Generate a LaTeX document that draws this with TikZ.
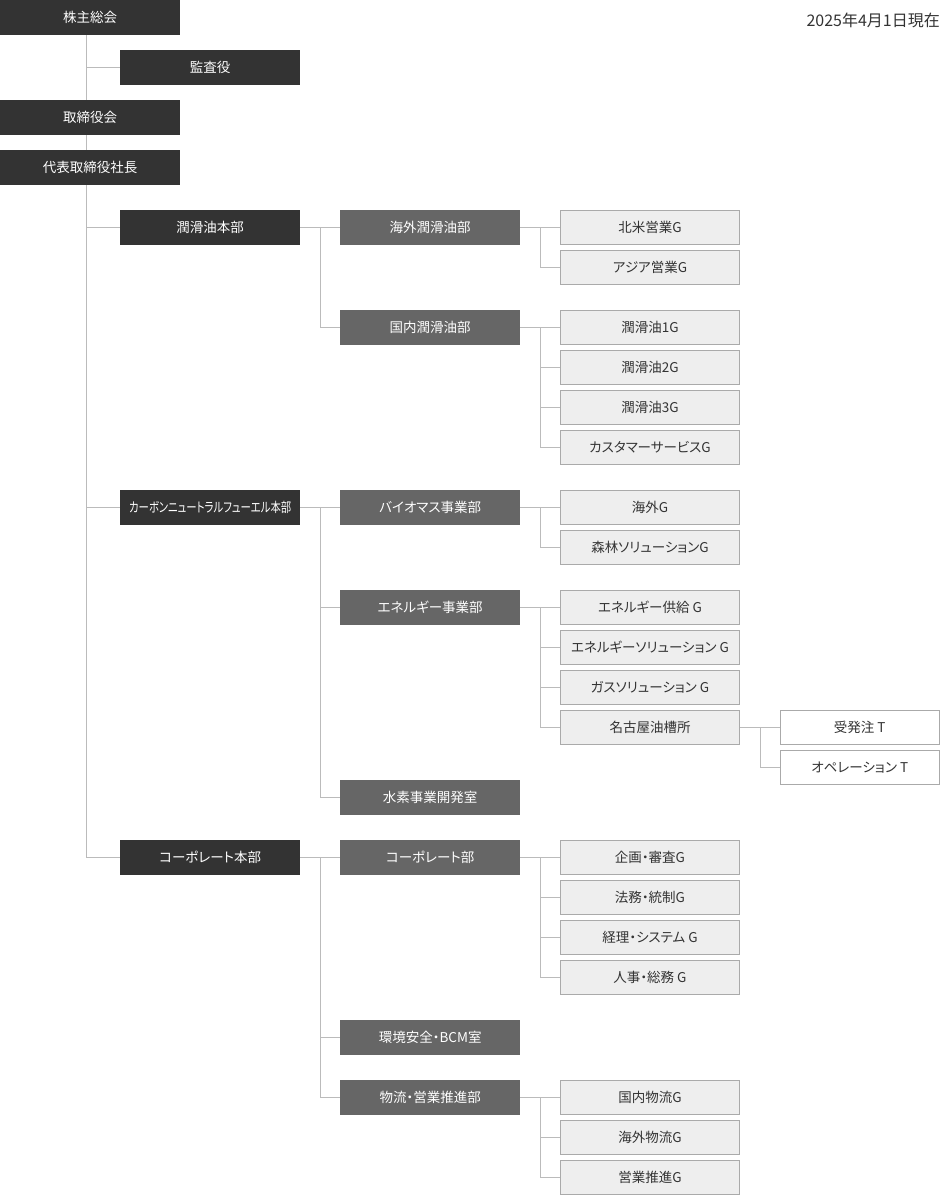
\documentclass[tikz,border=0pt]{standalone}
\usepackage{fontspec}
\setmainfont{Noto Sans CJK JP}[RawFeature=+palt]
\usetikzlibrary{backgrounds,calc}
\definecolor{cdark}{HTML}{333333}
\definecolor{cmid}{HTML}{666666}
\definecolor{clight}{HTML}{EEEEEE}
\definecolor{cborder}{HTML}{AAAAAA}
\definecolor{cline}{HTML}{BBBBBB}
\definecolor{ctext}{HTML}{333333}
\tikzset{
  boxbase/.style={anchor=north west, inner sep=0pt, minimum width=180pt, minimum height=35pt,
    font=\fontsize{13.5}{16}\selectfont},
  lvA/.style={boxbase, fill=cdark, text=white},
  lvB/.style={boxbase, fill=cmid, text=white},
  lvC/.style={boxbase, fill=clight, draw=cborder, line width=1pt, text=ctext,
    minimum width=179pt, minimum height=34pt},
  lvD/.style={boxbase, fill=white, draw=cborder, line width=1pt, text=ctext,
    minimum width=158.5pt, minimum height=34pt},
  conn/.style={draw=cline, line width=1pt},
}
\newcommand\orgbranch[2]{%
  \draw[conn] (#1.east) -- ++(20,0) coordinate (#1j);
  \foreach \c in {#2} {\draw[conn] (#1j) |- (\c.west);}
}
\begin{document}
\begin{tikzpicture}[x=1pt,y=-1pt]
\useasboundingbox (0,0) rectangle (940,1195);
% level A
\node[lvA] (kabu) at (0,0) {株主総会};
\node[lvA] (kansa) at (120,50) {監査役};
\node[lvA] (tori) at (0,100) {取締役会};
\node[lvA] (shacho) at (0,150) {代表取締役社長};
\node[lvA] (hq1) at (120,210) {潤滑油本部};
\node[lvA] (hq2) at (120,490) {\resizebox{162pt}{\height}{\fontsize{13.5}{15}\selectfont カーボンニュートラルフューエル本部}};
\node[lvA] (hq3) at (120,840) {コーポレート本部};
% level B
\node[lvB] (d11) at (340,210) {海外潤滑油部};
\node[lvB] (d12) at (340,310) {国内潤滑油部};
\node[lvB] (d21) at (340,490) {バイオマス事業部};
\node[lvB] (d22) at (340,590) {エネルギー事業部};
\node[lvB] (d23) at (340,780) {水素事業開発室};
\node[lvB] (d31) at (340,840) {コーポレート部};
\node[lvB] (d32) at (340,1020) {環境安全・BCM室};
\node[lvB] (d33) at (340,1080) {物流・営業推進部};
% level C
\node[lvC] (g111) at (560,210) {北米営業G};
\node[lvC] (g112) at (560,250) {アジア営業G};
\node[lvC] (g121) at (560,310) {潤滑油1G};
\node[lvC] (g122) at (560,350) {潤滑油2G};
\node[lvC] (g123) at (560,390) {潤滑油3G};
\node[lvC] (g124) at (560,430) {カスタマーサービスG};
\node[lvC] (g211) at (560,490) {海外G};
\node[lvC] (g212) at (560,530) {森林ソリューションG};
\node[lvC] (g221) at (560,590) {エネルギー供給 G};
\node[lvC] (g222) at (560,630) {エネルギーソリューション G};
\node[lvC] (g223) at (560,670) {ガスソリューション G};
\node[lvC] (g224) at (560,710) {名古屋油槽所};
\node[lvC] (g311) at (560,840) {企画・審査G};
\node[lvC] (g312) at (560,880) {法務・統制G};
\node[lvC] (g313) at (560,920) {経理・システム G};
\node[lvC] (g314) at (560,960) {人事・総務 G};
\node[lvC] (g331) at (560,1080) {国内物流G};
\node[lvC] (g332) at (560,1120) {海外物流G};
\node[lvC] (g333) at (560,1160) {営業推進G};
% level D
\node[lvD] (t1) at (780,710) {受発注 T};
\node[lvD] (t2) at (780,750) {オペレーション T};
% date
\node[anchor=east, inner sep=0pt, text=ctext, font=\fontsize{16}{19}\selectfont] (date) at (940,20) {2025年4月1日現在};
% connectors
\begin{scope}[on background layer]
  \coordinate (j0) at ($(kabu.south west)+(86,0)$);
  \foreach \c in {kansa,hq1,hq2,hq3} {\draw[conn] (j0) |- (\c.west);}
  \orgbranch{hq1}{d11,d12}
  \orgbranch{hq2}{d21,d22,d23}
  \orgbranch{hq3}{d31,d32,d33}
  \orgbranch{d11}{g111,g112}
  \orgbranch{d12}{g121,g122,g123,g124}
  \orgbranch{d21}{g211,g212}
  \orgbranch{d22}{g221,g222,g223,g224}
  \orgbranch{d31}{g311,g312,g313,g314}
  \orgbranch{d33}{g331,g332,g333}
  \orgbranch{g224}{t1,t2}
\end{scope}
\end{tikzpicture}
\end{document}
